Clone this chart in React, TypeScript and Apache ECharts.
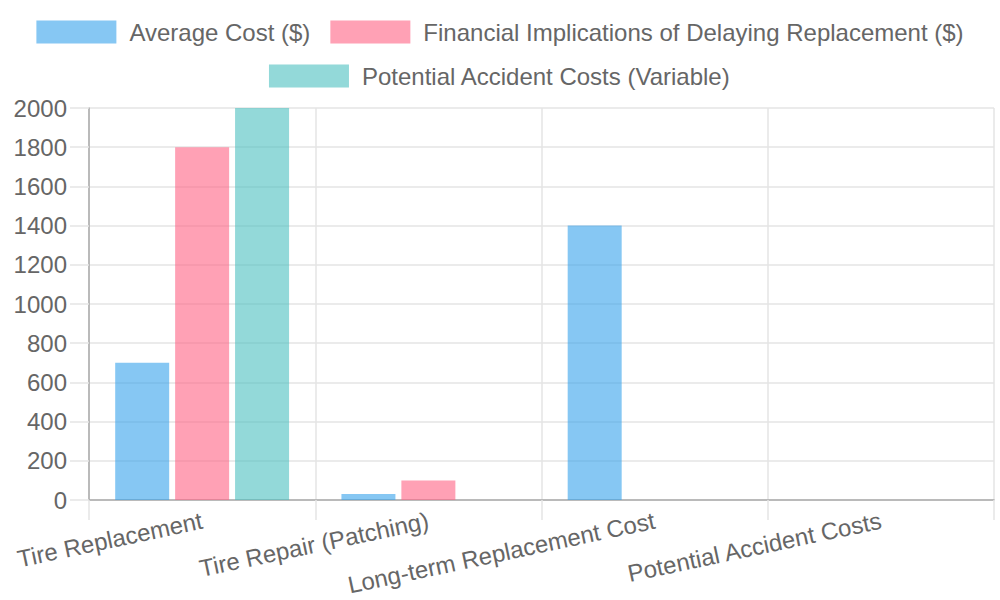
import React, { useEffect, useRef } from "react";
import * as echarts from "echarts";

const categories = [
  "Tire Replacement",
  "Tire Repair (Patching)",
  "Long-term Replacement Cost",
  "Potential Accident Costs",
];
const averageCost = [700, 30, 1400, null];
const delayCost = [1800, 100, null, null];
const accidentCost = [2000, null, null, null];
const yTicks = { min: 0, max: 2000, interval: 200 };

const FONT = "'Liberation Sans', Arial, Helvetica, sans-serif";
const TEXT = "#666666";
const GRID = "#e5e5e5";
const AXIS = "#aaaaaa";

export default function App() {
  const ref = useRef<HTMLDivElement>(null);

  useEffect(() => {
    if (!ref.current) return;
    const chart = echarts.init(ref.current, undefined, { renderer: "svg" });
    const legendText = {
      color: TEXT,
      fontSize: 24,
      fontFamily: FONT,
      padding: [0, 0, 0, 8],
    };
    chart.setOption({
      animation: false,
      textStyle: { fontFamily: FONT },
      legend: [
        {
          top: 15,
          left: "center",
          itemWidth: 80,
          itemHeight: 23,
          itemGap: 20,
          icon: "rect",
          data: ["Average Cost ($)", "Financial Implications of Delaying Replacement ($)"],
          textStyle: legendText,
        },
        {
          top: 59,
          left: "center",
          itemWidth: 80,
          itemHeight: 23,
          itemGap: 20,
          icon: "rect",
          data: ["Potential Accident Costs (Variable)"],
          textStyle: legendText,
        },
      ],
      grid: { left: 89, right: 6, top: 108, bottom: 100, containLabel: false },
      xAxis: {
        type: "category",
        data: categories,
        boundaryGap: true,
        axisLine: { show: true, lineStyle: { color: AXIS, width: 1.5 } },
        axisTick: { show: true, length: 20, lineStyle: { color: GRID, width: 1.5 } },
        splitLine: { show: true, lineStyle: { color: GRID, width: 1.5 } },
        axisLabel: {
          rotate: 12,
          margin: 20,
          fontSize: 24,
          color: TEXT,
          fontFamily: FONT,
          interval: 0,
        },
      },
      yAxis: {
        type: "value",
        min: yTicks.min,
        max: yTicks.max,
        interval: yTicks.interval,
        axisLine: { show: true, lineStyle: { color: AXIS, width: 1.5 } },
        axisTick: { show: true, length: 19, lineStyle: { color: GRID, width: 1.5 } },
        splitLine: { show: true, lineStyle: { color: GRID, width: 1.5 } },
        axisLabel: {
          margin: 22,
          fontSize: 24,
          color: TEXT,
          fontFamily: FONT,
          formatter: (v: number) => String(v),
        },
      },
      series: [
        {
          name: "Average Cost ($)",
          type: "bar",
          data: averageCost,
          barWidth: 54,
          barGap: "11%",
          itemStyle: { color: "rgba(54,162,235,0.6)" },
        },
        {
          name: "Financial Implications of Delaying Replacement ($)",
          type: "bar",
          data: delayCost,
          barWidth: 54,
          barGap: "11%",
          itemStyle: { color: "rgba(255,99,132,0.6)" },
        },
        {
          name: "Potential Accident Costs (Variable)",
          type: "bar",
          data: accidentCost,
          barWidth: 54,
          barGap: "11%",
          itemStyle: { color: "rgba(75,192,192,0.6)" },
        },
      ],
    });
    return () => chart.dispose();
  }, []);

  return (
    <div
      ref={ref}
      style={{ position: "absolute", left: 0, top: 0, width: 1000, height: 600, overflow: "hidden" }}
    />
  );
}
